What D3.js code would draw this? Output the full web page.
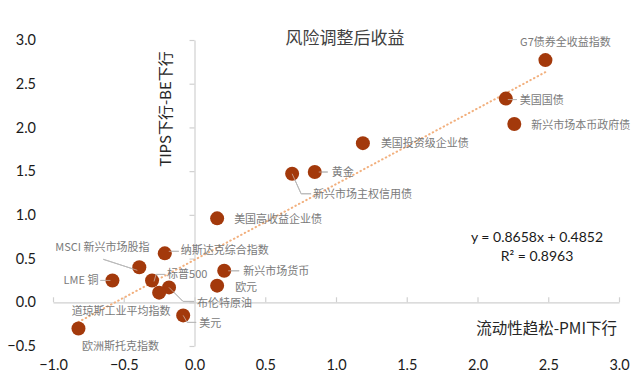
<!DOCTYPE html>
<html>
<head>
<meta charset="utf-8">
<script src="https://cdn.jsdelivr.net/npm/d3@7"></script>
<style>
  body { margin: 0; background: #fff; }
  .tickText text { font-family: Lato, "Open Sans", sans-serif; font-size: 14.5px; fill: #1a1a1a; }
  .ptLabel { font-family: "Noto Sans CJK SC", sans-serif; font-size: 11px; fill: #7a7a7a; }
</style>
</head>
<body>
<div id="chart"></div>
<script>
// data
let assetNames = ["G7债券全收益指数", "美国国债", "新兴市场本币政府债", "美国投资级企业债", "黄金",
  "新兴市场主权信用债", "美国高收益企业债", "纳斯达克综合指数", "MSCI 新兴市场股指", "LME 铜",
  "标普500", "布伦特原油", "道琼斯工业平均指数", "欧元", "新兴市场货币", "美元", "欧洲斯托克指数"];
let liquidity = [2.48, 2.20, 2.26, 1.19, 0.85, 0.69, 0.16, -0.21, -0.39, -0.58, -0.30, -0.18, -0.25, 0.16, 0.21, -0.08, -0.82];
let tipsBe = [2.77, 2.33, 2.04, 1.82, 1.49, 1.47, 0.96, 0.56, 0.40, 0.25, 0.25, 0.17, 0.11, 0.19, 0.36, -0.15, -0.30];
let xTicks = [-1.0, -0.5, 0.0, 0.5, 1.0, 1.5, 2.0, 2.5, 3.0];
let yTicks = [-0.5, 0.0, 0.5, 1.0, 1.5, 2.0, 2.5, 3.0];
let slope = 0.8658, intercept = 0.4852, rSquared = 0.8963;

// label placement: offset from the point, anchor, leader line (offsets from point)
let labelLayout = [
  {dx: 20, dy: -14, anchor: "middle", leader: null},
  {dx: 14, dy: 5, anchor: "start", leader: [[2, 1], [11, 1]]},
  {dx: 17, dy: 5, anchor: "start", leader: null},
  {dx: 18, dy: 4, anchor: "start", leader: null},
  {dx: 17, dy: 4, anchor: "start", leader: [[4, 0], [13, 0]]},
  {dx: 21, dy: 24, anchor: "start", leader: [[0, 0], [9, 20], [19, 20]]},
  {dx: 17, dy: 5, anchor: "start", leader: null},
  {dx: 16, dy: 1, anchor: "start", leader: [[4, -2], [14, -2]]},
  {dx: -37, dy: -16, anchor: "middle", leader: [[-36, -8], [-2, 3]]},
  {dx: -14, dy: 4, anchor: "end", leader: [[-12, 0], [-2, 0]]},
  {dx: 15, dy: -2, anchor: "start", leader: [[2, 1], [4, -6], [13, -6]]},
  {dx: 28, dy: 20, anchor: "start", leader: [[0, 0], [14, 14], [25, 14]]},
  {dx: -38, dy: 22, anchor: "middle", leader: null},
  {dx: 18, dy: 5, anchor: "start", leader: null},
  {dx: 19, dy: 4, anchor: "start", leader: [[4, 0], [15, 0]]},
  {dx: 16, dy: 12, anchor: "start", leader: [[0, 0], [4, 7], [13, 7]]},
  {dx: 42, dy: 21, anchor: "middle", leader: null}
];

let svgWidth = 640;
let svgHeight = 386;

let svg = d3.select("#chart")
  .append("svg")
  .attr("width", svgWidth)
  .attr("height", svgHeight);

let xScale = d3.scaleLinear().domain([-1, 3]).range([53, 619]);
let yScale = d3.scaleLinear().domain([-0.5, 3]).range([346, 40]);

let axisColor = "#d0d0d0";

// axis lines crossing at zero
let xAxisLine = svg.append("g")
  .attr("transform", `translate(0, ${yScale(0)})`)
  .call(d3.axisBottom(xScale).tickValues(xTicks).tickSize(-5).tickSizeOuter(0).tickFormat(""));

let yAxisLine = svg.append("g")
  .attr("transform", `translate(${xScale(0)}, 0)`)
  .call(d3.axisLeft(yScale).tickValues(yTicks).tickSize(5).tickSizeOuter(0).tickFormat(""));

[xAxisLine, yAxisLine].forEach(g => {
  g.selectAll("path, line").attr("stroke", axisColor).attr("stroke-width", 1.2);
});

// tick labels sit at the edges of the chart
let xLabels = svg.append("g")
  .attr("class", "tickText")
  .attr("transform", "translate(0, 357)")
  .call(d3.axisBottom(xScale).tickValues(xTicks).tickSize(0).tickFormat(d3.format(".1f")));
xLabels.select(".domain").remove();
xLabels.selectAll("text").attr("font-size", null);

let yLabels = svg.append("g")
  .attr("class", "tickText")
  .attr("transform", "translate(39, 0)")
  .call(d3.axisLeft(yScale).tickValues(yTicks).tickSize(0).tickFormat(d3.format(".1f")));
yLabels.select(".domain").remove();
yLabels.selectAll("text").attr("font-size", null).attr("dx", 0);

// dotted trend line over the data range
let xMin = d3.min(liquidity), xMax = d3.max(liquidity);
svg.append("line")
  .attr("x1", xScale(xMin))
  .attr("y1", yScale(slope * xMin + intercept))
  .attr("x2", xScale(xMax))
  .attr("y2", yScale(slope * xMax + intercept))
  .attr("stroke", "#f2b07e")
  .attr("stroke-width", 2)
  .attr("stroke-linecap", "round")
  .attr("stroke-dasharray", "0.5 3.6");

let points = assetNames.map((name, i) => ({
  name: name,
  x: liquidity[i],
  y: tipsBe[i],
  layout: labelLayout[i]
}));

// leader lines
svg.append("g").selectAll("polyline")
  .data(points.filter(d => d.layout.leader))
  .enter()
  .append("polyline")
  .attr("points", d => d.layout.leader.map(p => [xScale(d.x) + p[0], yScale(d.y) + p[1]].join(",")).join(" "))
  .attr("fill", "none")
  .attr("stroke", "#8c8c8c")
  .attr("stroke-width", 1);

svg.append("g").selectAll("circle")
  .data(points)
  .enter()
  .append("circle")
  .attr("cx", d => xScale(d.x))
  .attr("cy", d => yScale(d.y))
  .attr("r", 7)
  .attr("fill", "#a3390b");

// leader ends that sit over a dot are drawn light
svg.append("g").selectAll("polyline")
  .data(points.filter(d => d.layout.leader))
  .enter()
  .append("polyline")
  .attr("points", d => d.layout.leader.map(p => [xScale(d.x) + p[0], yScale(d.y) + p[1]].join(",")).join(" "))
  .attr("fill", "none")
  .attr("stroke", "#d9d9d9")
  .attr("stroke-width", 1)
  .attr("opacity", 0.6);

svg.append("g").selectAll("text")
  .data(points)
  .enter()
  .append("text")
  .attr("class", "ptLabel")
  .attr("x", d => xScale(d.x) + d.layout.dx)
  .attr("y", d => yScale(d.y) + d.layout.dy)
  .attr("text-anchor", d => d.layout.anchor)
  .text(d => d.name);

// titles
svg.append("text")
  .attr("x", 345)
  .attr("y", 44)
  .attr("text-anchor", "middle")
  .attr("font-family", "'Noto Sans CJK SC', sans-serif")
  .attr("font-size", "17px")
  .attr("fill", "#404040")
  .text("风险调整后收益");

svg.append("text")
  .attr("transform", "translate(171, 109) rotate(-90)")
  .attr("text-anchor", "middle")
  .attr("font-family", "'Noto Sans CJK SC', sans-serif")
  .attr("font-size", "15px")
  .attr("fill", "#262626")
  .text("TIPS下行-BE下行");

svg.append("text")
  .attr("x", 617)
  .attr("y", 334)
  .attr("text-anchor", "end")
  .attr("font-family", "'Noto Sans CJK SC', sans-serif")
  .attr("font-size", "15.5px")
  .attr("fill", "#262626")
  .text("流动性趋松-PMI下行");

let eq = svg.append("text")
  .attr("text-anchor", "middle")
  .attr("font-family", "Lato, 'Open Sans', sans-serif")
  .attr("font-size", "14px")
  .attr("fill", "#1a1a1a");
eq.append("tspan").attr("x", 537).attr("y", 242)
  .text(`y = ${slope}x + ${intercept}`);
eq.append("tspan").attr("x", 537).attr("y", 261)
  .text(`R² = ${rSquared}`);
</script>
</body>
</html>
